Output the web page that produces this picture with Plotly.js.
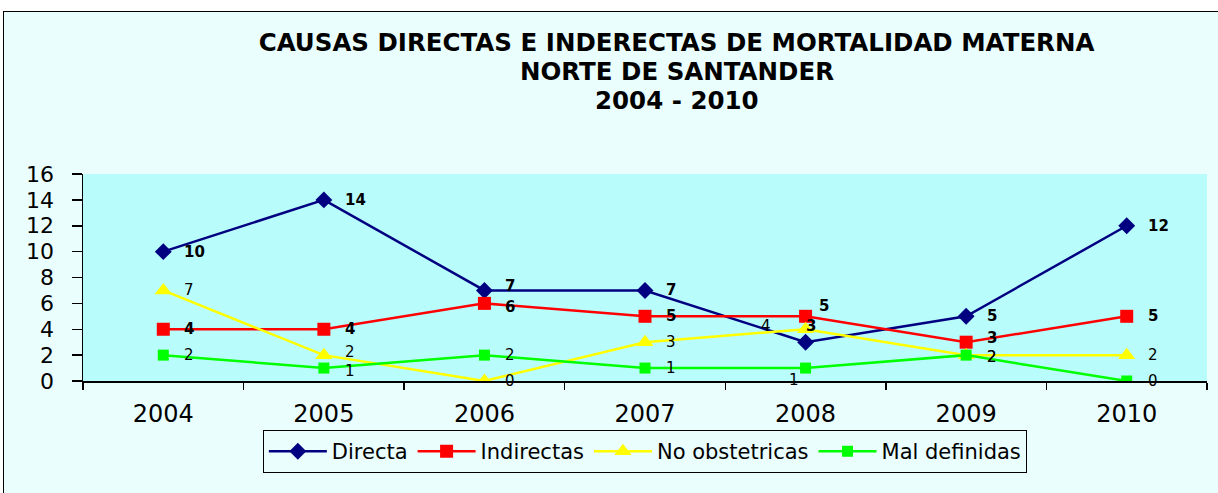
<!DOCTYPE html>
<html>
<head>
<meta charset="utf-8">
<script src="https://cdn.plot.ly/plotly-3.0.1.min.js"></script>
<style>
  html, body { margin: 0; padding: 0; background: #ffffff; overflow: hidden; }
  #frame { position: absolute; left: 3px; top: 11px; width: 1230px; height: 500px;
           border: 1px solid #000; background: #EAFEFE; }
  #chart { position: absolute; left: 0; top: 0; }
</style>
</head>
<body>
<div id="frame"><div id="chart"></div></div>
<script>
// ---- data ----
const years = ["2004", "2005", "2006", "2007", "2008", "2009", "2010"];
const directa = [10, 14, 7, 7, 3, 5, 12];
const indirectas = [4, 4, 6, 5, 5, 3, 5];
const noObstetricas = [7, 2, 0, 3, 4, 2, 2];
const malDefinidas = [2, 1, 2, 1, 1, 2, 0];
const seriesNames = ["Directa", "Indirectas", "No obstetricas", "Mal definidas"];
const titleLines = ["CAUSAS DIRECTAS E INDERECTAS DE MORTALIDAD MATERNA", "NORTE DE SANTANDER", "2004 - 2010"];
const yTicks = [0, 2, 4, 6, 8, 10, 12, 14, 16];

// ---- styles ----
const FONT = "'DejaVu Sans', Verdana, sans-serif";
const TITLE_SIZE = 24.5;
const styles = [
  {color: "#000080", symbol: "diamond", size: 13, bold: true},
  {color: "#FF0000", symbol: "square", size: 13, bold: true},
  {color: "#FFFF00", symbol: "triangle-up", size: 15, bold: false},
  {color: "#00FF00", symbol: "square", size: 11, bold: false}
];
const allValues = [directa, indirectas, noObstetricas, malDefinidas];

const traces = allValues.map((vals, i) => ({
  type: "scatter", mode: "lines+markers", name: seriesNames[i],
  x: years, y: vals,
  line: {color: styles[i].color, width: 2.5},
  marker: {color: styles[i].color, symbol: styles[i].symbol, size: styles[i].size}
}));

// label placement overrides: "series-point" -> shifts (pixels)
const labelShift = {
  "0-2": {yshift: 4},
  "1-2": {yshift: -4},
  "2-1": {yshift: 3},
  "3-1": {yshift: -3},
  "1-5": {yshift: 4},
  "2-5": {yshift: -2},
  "3-5": {yshift: -2},
  "0-4": {xanchor: "left", xshift: -2, yshift: 16},
  "1-4": {xanchor: "left", xshift: 11, yshift: 10},
  "2-4": {xanchor: "right", xshift: -33, yshift: 3},
  "3-4": {xanchor: "right", xshift: -5, yshift: -12}
};
const annotations = [];
allValues.forEach((vals, i) => {
  vals.forEach((v, j) => {
    const ov = labelShift[i + "-" + j] || {};
    annotations.push({
      x: j, y: v, xref: "x", yref: "y",
      text: styles[i].bold ? "<b>" + v + "</b>" : String(v),
      showarrow: false,
      xanchor: ov.xanchor || "left",
      yanchor: "middle",
      xshift: ov.xshift !== undefined ? ov.xshift : 19,
      yshift: ov.yshift || 0,
      font: {family: FONT, size: 15, color: "#000"}
    });
  });
});
// title lines 2 and 3 (line spacing tighter than Plotly's default)
const titleY = [1.497, 1.357];
titleLines.slice(1).forEach((t, k) => {
  annotations.push({
    x: 0.5285, y: titleY[k], xref: "paper", yref: "paper",
    xanchor: "center", yanchor: "middle", showarrow: false,
    text: "<b>" + t + "</b>",
    font: {family: FONT, size: TITLE_SIZE, color: "#000"}
  });
});

const layout = {
  width: 1214, height: 485,
  margin: {l: 79, r: 11, t: 162, b: 116},
  paper_bgcolor: "#EAFEFE",
  plot_bgcolor: "#B9FCFC",
  font: {family: FONT, color: "#000"},
  title: {
    text: "<b>" + titleLines[0] + "</b>",
    font: {family: FONT, size: TITLE_SIZE, color: "#000"},
    x: 0.554, xanchor: "center", xref: "container",
    y: 0.938, yanchor: "middle", yref: "container"
  },
  xaxis: {
    type: "category", tickson: "boundaries",
    showline: true, linecolor: "#000", linewidth: 1.5,
    ticks: "outside", ticklen: 7, tickcolor: "#000", tickwidth: 1.5,
    showgrid: false, zeroline: false,
    tickfont: {family: FONT, size: 24, color: "#000"},
    ticklabelstandoff: 11,
    range: [-0.5, 6.5]
  },
  yaxis: {
    range: [0, 16], tickvals: yTicks,
    showline: true, linecolor: "#000", linewidth: 1.5,
    ticks: "outside", ticklen: 10, tickcolor: "#000", tickwidth: 1.5,
    showgrid: false, zeroline: false,
    tickfont: {family: FONT, size: 22, color: "#000"},
    ticklabelstandoff: 13
  },
  legend: {
    orientation: "h", x: 0.160, xanchor: "left", y: -0.237, yanchor: "top",
    bgcolor: "#EAFEFE", bordercolor: "#000", borderwidth: 1,
    font: {family: FONT, size: 21, color: "#000"},
    itemwidth: 58
  },
  annotations: annotations,
  showlegend: true
};

Plotly.newPlot("chart", traces, layout, {displayModeBar: false, staticPlot: true});
</script>
</body>
</html>
